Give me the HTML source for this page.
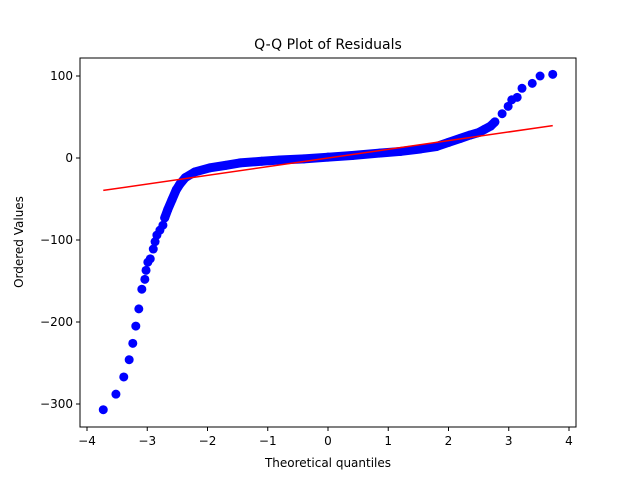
<!DOCTYPE html>
<html><head><meta charset="utf-8"><style>
body{margin:0;background:#fff}
svg text{font-family:"DejaVu Sans","Liberation Sans",sans-serif;fill:#000}
</style></head><body>
<svg width="640" height="480" id="chart">
<rect width="640" height="480" fill="#fff"/>
<g id="plot"></g>
<rect x="80" y="58" width="496" height="369" fill="none" stroke="#000" stroke-width="1"/>
<text x="328" y="49" font-size="14" text-anchor="middle">Q-Q Plot of Residuals</text>
<text x="328" y="467" font-size="12" text-anchor="middle">Theoretical quantiles</text>
<text x="23" y="242" font-size="12" text-anchor="middle" transform="rotate(-90 23 242)">Ordered Values</text>
<g id="axes"></g>
</svg>
<script>
const qx=[-3.73,-3.52,-3.39,-3.30,-3.24,-3.19,-3.14,-3.09,-3.04,-3.02,-2.99,-2.95,-2.90,-2.87,-2.84,-2.79,-2.74,-2.71,-2.66,-2.59,-2.52,-2.46,-2.37,-2.21,-1.96,-1.7,-1.46,-1.1,-0.8,-0.4,0,0.4,0.86,1.2,1.53,1.8,2.0,2.2,2.36,2.5,2.6,2.7,2.77,2.89,2.99,3.05,3.14,3.22,3.39,3.52,3.73];
const qy=[-307,-288,-267,-246,-226,-205,-184,-160,-148,-137,-127,-123,-111,-102,-94,-88,-82,-73,-63,-51,-39,-32,-24,-17,-12,-9,-6,-4,-2.5,-1,1,3,6,8,11,14,19,24,28,31,35,39,44,54,63,71,74,85,91,100,102];
const lineX=[-3.73,3.73];
const lineY=[-39.5,39.5];
const xTicks=[-4,-3,-2,-1,0,1,2,3,4];
const yTicks=[100,0,-100,-200,-300];
const X=v=>328+v*60.25, Y=v=>158-v*0.82;
const NS="http://www.w3.org/2000/svg";
const plot=document.getElementById('plot'), axes=document.getElementById('axes');
function mk(t,a,p){const e=document.createElementNS(NS,t);for(const k in a)e.setAttribute(k,a[k]);p.appendChild(e);return e;}
const dense=qx.map((v,i)=>[v,qy[i]]).filter(p=>p[0]>=-2.72&&p[0]<=2.78);
const band=mk('polyline',{points:dense.map(p=>X(p[0])+','+Y(p[1])).join(' '),fill:'none',stroke:'#0000ff','stroke-width':9,'stroke-linejoin':'round','stroke-linecap':'round'},plot);


qx.forEach((v,i)=>{const c=mk('circle',{cx:X(v),cy:Y(qy[i]),r:4.5,fill:'#0000ff'},plot);

});
const ln=mk('line',{x1:X(lineX[0]),y1:Y(lineY[0]),x2:X(lineX[1]),y2:Y(lineY[1]),stroke:'#ff0000','stroke-width':1.5},plot);


xTicks.forEach(t=>{const x=X(t);mk('line',{x1:x,x2:x,y1:427,y2:431,stroke:'#000'},axes);
const tx=mk('text',{x:x,y:445,'font-size':12,'text-anchor':'middle'},axes);tx.textContent=(t<0?'\u2212'+(-t):t);

});
yTicks.forEach(t=>{const y=Y(t);mk('line',{x1:76,x2:80,y1:y,y2:y,stroke:'#000'},axes);
const tx=mk('text',{x:73,y:y+4,'font-size':12,'text-anchor':'end'},axes);tx.textContent=(t<0?'\u2212'+(-t):t);

});
</script>
</body></html>
